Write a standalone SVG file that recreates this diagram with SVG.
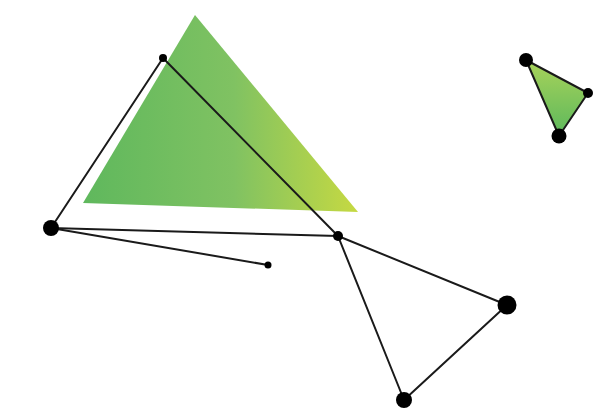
<svg xmlns="http://www.w3.org/2000/svg" width="605" height="410" viewBox="0 0 605 410">
<defs>
<linearGradient id="g1" x1="83" y1="0" x2="358" y2="0" gradientUnits="userSpaceOnUse">
<stop offset="0" stop-color="#5fb85d"/>
<stop offset="0.55" stop-color="#80c262"/>
<stop offset="1" stop-color="#c6d942"/>
</linearGradient>
<linearGradient id="g2" x1="0" y1="60" x2="0" y2="136" gradientUnits="userSpaceOnUse">
<stop offset="0" stop-color="#a9d35a"/>
<stop offset="1" stop-color="#5cb85c"/>
</linearGradient>
<style>
.edge{stroke:#1a1a1a;stroke-width:2;fill:none;stroke-linecap:round}
.dot{fill:#000}
</style>
</defs>
<rect width="605" height="410" fill="#fff"/>
<polygon id="bigTriangle" points="195,15 83,203 358,212" fill="url(#g1)"/>
<g id="smallTriangle">
<polygon points="526,60 588,93 559,136" fill="url(#g2)" stroke="#1a1a1a" stroke-width="2" stroke-linejoin="round"/>
<circle class="dot" cx="526" cy="60" r="7"/>
<circle class="dot" cx="588" cy="93" r="5"/>
<circle class="dot" cx="559" cy="136" r="7.5"/>
</g>
<g id="connectors">
<line class="edge" x1="163" y1="58" x2="51" y2="228"/>
<line class="edge" x1="163" y1="58" x2="338" y2="236"/>
<line class="edge" x1="51" y1="228" x2="338" y2="236"/>
<line class="edge" x1="51" y1="228" x2="268" y2="265"/>
<line class="edge" x1="338" y1="236" x2="507" y2="305"/>
<line class="edge" x1="338" y1="236" x2="404" y2="400"/>
<line class="edge" x1="507" y1="305" x2="404" y2="400"/>
</g>
<g id="n1"><circle class="dot" cx="163" cy="58" r="4"/></g>
<g id="n2"><circle class="dot" cx="51" cy="228" r="8"/></g>
<g id="n3"><circle class="dot" cx="338" cy="236" r="5"/></g>
<g id="n4"><circle class="dot" cx="268" cy="265" r="3.5"/></g>
<g id="n5"><circle class="dot" cx="507" cy="305" r="9.5"/></g>
<g id="n6"><circle class="dot" cx="404" cy="400" r="8"/></g>
</svg>
